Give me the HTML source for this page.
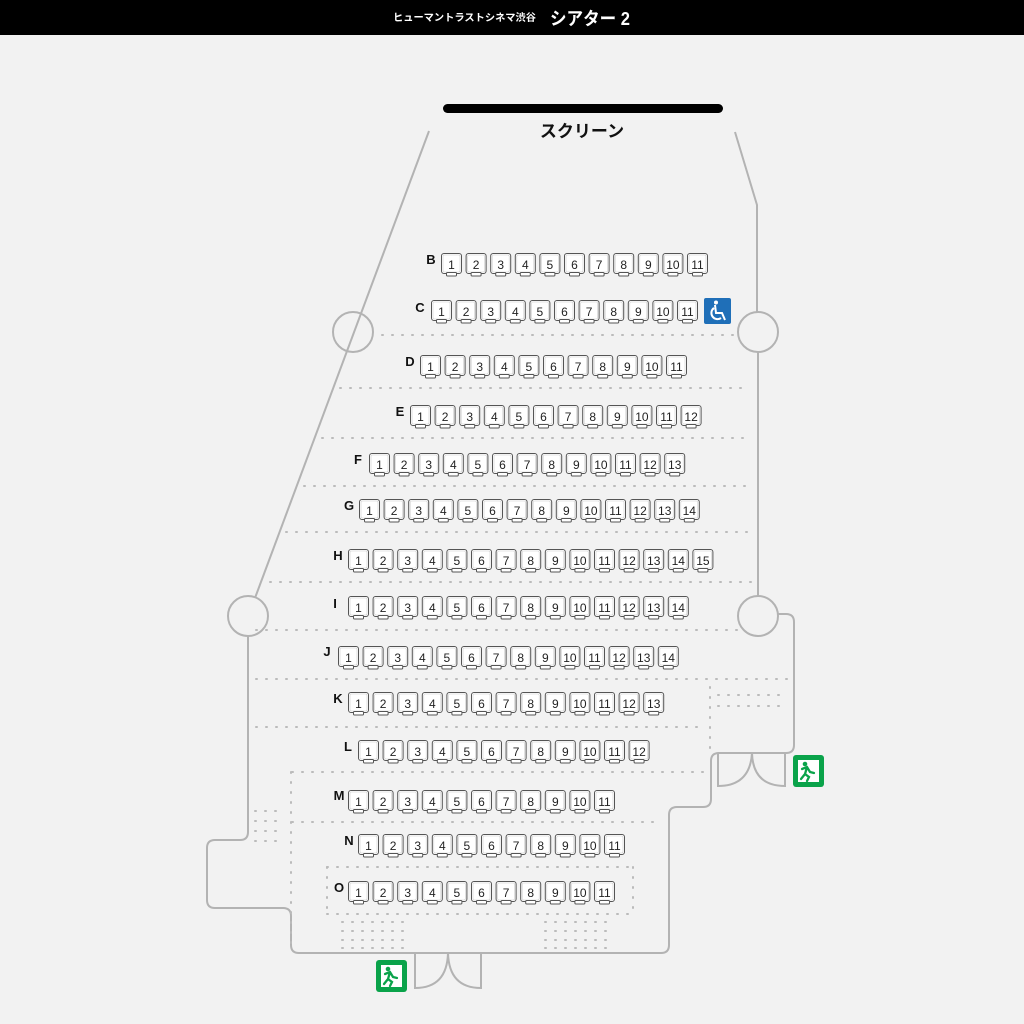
<!DOCTYPE html>
<html><head><meta charset="utf-8"><style>
html,body{margin:0;padding:0;background:#f2f2f2;}
svg{display:block;}
.n{font-family:"Liberation Sans",sans-serif;font-size:12px;fill:#222;text-anchor:middle;}
.r{font-family:"Liberation Sans",sans-serif;font-size:13px;font-weight:bold;fill:#111;text-anchor:middle;}
.w{fill:none;stroke:#b3b3b3;stroke-width:2;}
.d{fill:none;stroke:#bbb;stroke-width:2;stroke-dasharray:1 9;stroke-linecap:round;}
</style></head><body>
<svg width="1024" height="1024" viewBox="0 0 1024 1024" xmlns="http://www.w3.org/2000/svg">
<defs>
<g id="s"><rect x="0.5" y="0.5" width="20" height="20" rx="2.5" fill="#fff" stroke="#555" stroke-width="1"/><rect x="2" y="2" width="17" height="17" rx="1.5" fill="none" stroke="#ccc" stroke-width="0.6"/><rect x="5.5" y="19.5" width="10" height="3.5" rx="1" fill="#fff" stroke="#555" stroke-width="1"/></g>
<g id="exit"><rect x="0" y="0" width="31" height="32" rx="3" fill="#0aa34a"/><rect x="5" y="5" width="21" height="22" fill="#fff"/><circle cx="12" cy="9" r="2.3" fill="#0aa34a"/><path d="M9 14 L14 12 L17 17 L21 18 M14 12 L12 19 L16 22 L14 26 M12 19 L8 24" stroke="#0aa34a" stroke-width="2.3" fill="none" stroke-linecap="round"/></g>
</defs>
<rect x="0" y="0" width="1024" height="35" fill="#000"/>
<text x="393" y="21" fill="#fff" font-family="'Liberation Sans','Noto Sans CJK JP',sans-serif" font-size="10" font-weight="bold" textLength="143" lengthAdjust="spacingAndGlyphs">ヒューマントラストシネマ渋谷</text>
<text x="550" y="25" fill="#fff" font-family="'Liberation Sans','Noto Sans CJK JP',sans-serif" font-size="18" font-weight="bold" textLength="80" lengthAdjust="spacingAndGlyphs">シアター 2</text>
<rect x="443" y="104" width="280" height="9" rx="4.5" fill="#000"/>
<text x="582" y="137" fill="#111" font-family="'Liberation Sans','Noto Sans CJK JP',sans-serif" font-size="17" font-weight="bold" text-anchor="middle">スクリーン</text>

<path class="w" d="M429 131 L255 598"/>
<circle class="w" cx="353" cy="332" r="20"/>
<circle class="w" cx="248" cy="616" r="20"/>
<circle class="w" cx="758" cy="332" r="20"/>
<circle class="w" cx="758" cy="616" r="20"/>
<path class="w" d="M735 132 L757 205 L757 312"/>
<path class="w" d="M758 352 L758 596"/>
<path class="w" d="M248 636 L248 832 Q248 840 240 840 L215 840 Q207 840 207 848 L207 900 Q207 908 215 908 L283 908 Q291 908 291 916 L291 945 Q291 953 299 953 L661 953 Q669 953 669 945 L669 815 Q669 807 677 807 L703 807 Q711 807 711 799 L711 761 Q711 753 719 753 L786 753 Q794 753 794 745 L794 622 Q794 614 786 614 L778 614"/>
<path class="w" d="M415 953 L415 988 Q447 988 448 953 Q449 988 481 988 L481 953"/>
<path class="w" d="M718 753 L718 786 Q750 786 752 753 Q753 786 785 786 L785 753"/>
<use href="#exit" x="376" y="960"/>
<use href="#exit" x="793" y="755"/>

<path class="d" d="M382 335 H735 M340 388 H748 M322 438 H752 M304 486 H750 M286 532 H748 M270 582 H752 M256 630 H738 M256 679 H790 M256 727 H705 M292 772 H705 M292 822 H662 M327 867 H633 M327 914 H633"/>
<path class="d" d="M291 772 V945 M327 867 V914 M633 867 V914 M710 687 V750"/>
<path class="d" d="M255 811 H285 M255 821 H285 M255 831 H285 M255 841 H285"/>
<path class="d" d="M718 695 H788 M718 706 H788"/>
<path class="d" d="M342 922 H404 M342 931 H404 M342 940 H404 M342 948 H404 M545 922 H607 M545 931 H607 M545 940 H607 M545 948 H607"/>

<rect x="704" y="298" width="27" height="26" rx="2" fill="#1f6fb8"/>
<circle cx="716" cy="302.5" r="2" fill="#fff"/>
<path d="M715 305 L716 313 L722 313 L725 320 M714 308 A6 6 0 1 0 721 318" stroke="#fff" stroke-width="2" fill="none"/>

<text class="r" x="431" y="264">B</text>
<g transform="translate(441,253)">
<use href="#s" x="0"/><text class="n" x="10.5" y="16">1</text>
<use href="#s" x="24.6"/><text class="n" x="35.1" y="16">2</text>
<use href="#s" x="49.2"/><text class="n" x="59.7" y="16">3</text>
<use href="#s" x="73.8"/><text class="n" x="84.3" y="16">4</text>
<use href="#s" x="98.4"/><text class="n" x="108.9" y="16">5</text>
<use href="#s" x="123"/><text class="n" x="133.5" y="16">6</text>
<use href="#s" x="147.6"/><text class="n" x="158.1" y="16">7</text>
<use href="#s" x="172.2"/><text class="n" x="182.7" y="16">8</text>
<use href="#s" x="196.8"/><text class="n" x="207.3" y="16">9</text>
<use href="#s" x="221.4"/><text class="n" x="231.9" y="16">10</text>
<use href="#s" x="246"/><text class="n" x="256.5" y="16">11</text>
</g>
<text class="r" x="420" y="312">C</text>
<g transform="translate(431,300)">
<use href="#s" x="0"/><text class="n" x="10.5" y="16">1</text>
<use href="#s" x="24.6"/><text class="n" x="35.1" y="16">2</text>
<use href="#s" x="49.2"/><text class="n" x="59.7" y="16">3</text>
<use href="#s" x="73.8"/><text class="n" x="84.3" y="16">4</text>
<use href="#s" x="98.4"/><text class="n" x="108.9" y="16">5</text>
<use href="#s" x="123"/><text class="n" x="133.5" y="16">6</text>
<use href="#s" x="147.6"/><text class="n" x="158.1" y="16">7</text>
<use href="#s" x="172.2"/><text class="n" x="182.7" y="16">8</text>
<use href="#s" x="196.8"/><text class="n" x="207.3" y="16">9</text>
<use href="#s" x="221.4"/><text class="n" x="231.9" y="16">10</text>
<use href="#s" x="246"/><text class="n" x="256.5" y="16">11</text>
</g>
<text class="r" x="410" y="366">D</text>
<g transform="translate(420,355)">
<use href="#s" x="0"/><text class="n" x="10.5" y="16">1</text>
<use href="#s" x="24.6"/><text class="n" x="35.1" y="16">2</text>
<use href="#s" x="49.2"/><text class="n" x="59.7" y="16">3</text>
<use href="#s" x="73.8"/><text class="n" x="84.3" y="16">4</text>
<use href="#s" x="98.4"/><text class="n" x="108.9" y="16">5</text>
<use href="#s" x="123"/><text class="n" x="133.5" y="16">6</text>
<use href="#s" x="147.6"/><text class="n" x="158.1" y="16">7</text>
<use href="#s" x="172.2"/><text class="n" x="182.7" y="16">8</text>
<use href="#s" x="196.8"/><text class="n" x="207.3" y="16">9</text>
<use href="#s" x="221.4"/><text class="n" x="231.9" y="16">10</text>
<use href="#s" x="246"/><text class="n" x="256.5" y="16">11</text>
</g>
<text class="r" x="400" y="416">E</text>
<g transform="translate(410,405)">
<use href="#s" x="0"/><text class="n" x="10.5" y="16">1</text>
<use href="#s" x="24.6"/><text class="n" x="35.1" y="16">2</text>
<use href="#s" x="49.2"/><text class="n" x="59.7" y="16">3</text>
<use href="#s" x="73.8"/><text class="n" x="84.3" y="16">4</text>
<use href="#s" x="98.4"/><text class="n" x="108.9" y="16">5</text>
<use href="#s" x="123"/><text class="n" x="133.5" y="16">6</text>
<use href="#s" x="147.6"/><text class="n" x="158.1" y="16">7</text>
<use href="#s" x="172.2"/><text class="n" x="182.7" y="16">8</text>
<use href="#s" x="196.8"/><text class="n" x="207.3" y="16">9</text>
<use href="#s" x="221.4"/><text class="n" x="231.9" y="16">10</text>
<use href="#s" x="246"/><text class="n" x="256.5" y="16">11</text>
<use href="#s" x="270.6"/><text class="n" x="281.1" y="16">12</text>
</g>
<text class="r" x="358" y="464">F</text>
<g transform="translate(369,453)">
<use href="#s" x="0"/><text class="n" x="10.5" y="16">1</text>
<use href="#s" x="24.6"/><text class="n" x="35.1" y="16">2</text>
<use href="#s" x="49.2"/><text class="n" x="59.7" y="16">3</text>
<use href="#s" x="73.8"/><text class="n" x="84.3" y="16">4</text>
<use href="#s" x="98.4"/><text class="n" x="108.9" y="16">5</text>
<use href="#s" x="123"/><text class="n" x="133.5" y="16">6</text>
<use href="#s" x="147.6"/><text class="n" x="158.1" y="16">7</text>
<use href="#s" x="172.2"/><text class="n" x="182.7" y="16">8</text>
<use href="#s" x="196.8"/><text class="n" x="207.3" y="16">9</text>
<use href="#s" x="221.4"/><text class="n" x="231.9" y="16">10</text>
<use href="#s" x="246"/><text class="n" x="256.5" y="16">11</text>
<use href="#s" x="270.6"/><text class="n" x="281.1" y="16">12</text>
<use href="#s" x="295.2"/><text class="n" x="305.7" y="16">13</text>
</g>
<text class="r" x="349" y="510">G</text>
<g transform="translate(359,499)">
<use href="#s" x="0"/><text class="n" x="10.5" y="16">1</text>
<use href="#s" x="24.6"/><text class="n" x="35.1" y="16">2</text>
<use href="#s" x="49.2"/><text class="n" x="59.7" y="16">3</text>
<use href="#s" x="73.8"/><text class="n" x="84.3" y="16">4</text>
<use href="#s" x="98.4"/><text class="n" x="108.9" y="16">5</text>
<use href="#s" x="123"/><text class="n" x="133.5" y="16">6</text>
<use href="#s" x="147.6"/><text class="n" x="158.1" y="16">7</text>
<use href="#s" x="172.2"/><text class="n" x="182.7" y="16">8</text>
<use href="#s" x="196.8"/><text class="n" x="207.3" y="16">9</text>
<use href="#s" x="221.4"/><text class="n" x="231.9" y="16">10</text>
<use href="#s" x="246"/><text class="n" x="256.5" y="16">11</text>
<use href="#s" x="270.6"/><text class="n" x="281.1" y="16">12</text>
<use href="#s" x="295.2"/><text class="n" x="305.7" y="16">13</text>
<use href="#s" x="319.8"/><text class="n" x="330.3" y="16">14</text>
</g>
<text class="r" x="338" y="560">H</text>
<g transform="translate(348,549)">
<use href="#s" x="0"/><text class="n" x="10.5" y="16">1</text>
<use href="#s" x="24.6"/><text class="n" x="35.1" y="16">2</text>
<use href="#s" x="49.2"/><text class="n" x="59.7" y="16">3</text>
<use href="#s" x="73.8"/><text class="n" x="84.3" y="16">4</text>
<use href="#s" x="98.4"/><text class="n" x="108.9" y="16">5</text>
<use href="#s" x="123"/><text class="n" x="133.5" y="16">6</text>
<use href="#s" x="147.6"/><text class="n" x="158.1" y="16">7</text>
<use href="#s" x="172.2"/><text class="n" x="182.7" y="16">8</text>
<use href="#s" x="196.8"/><text class="n" x="207.3" y="16">9</text>
<use href="#s" x="221.4"/><text class="n" x="231.9" y="16">10</text>
<use href="#s" x="246"/><text class="n" x="256.5" y="16">11</text>
<use href="#s" x="270.6"/><text class="n" x="281.1" y="16">12</text>
<use href="#s" x="295.2"/><text class="n" x="305.7" y="16">13</text>
<use href="#s" x="319.8"/><text class="n" x="330.3" y="16">14</text>
<use href="#s" x="344.4"/><text class="n" x="354.9" y="16">15</text>
</g>
<text class="r" x="335" y="608">I</text>
<g transform="translate(348,596)">
<use href="#s" x="0"/><text class="n" x="10.5" y="16">1</text>
<use href="#s" x="24.6"/><text class="n" x="35.1" y="16">2</text>
<use href="#s" x="49.2"/><text class="n" x="59.7" y="16">3</text>
<use href="#s" x="73.8"/><text class="n" x="84.3" y="16">4</text>
<use href="#s" x="98.4"/><text class="n" x="108.9" y="16">5</text>
<use href="#s" x="123"/><text class="n" x="133.5" y="16">6</text>
<use href="#s" x="147.6"/><text class="n" x="158.1" y="16">7</text>
<use href="#s" x="172.2"/><text class="n" x="182.7" y="16">8</text>
<use href="#s" x="196.8"/><text class="n" x="207.3" y="16">9</text>
<use href="#s" x="221.4"/><text class="n" x="231.9" y="16">10</text>
<use href="#s" x="246"/><text class="n" x="256.5" y="16">11</text>
<use href="#s" x="270.6"/><text class="n" x="281.1" y="16">12</text>
<use href="#s" x="295.2"/><text class="n" x="305.7" y="16">13</text>
<use href="#s" x="319.8"/><text class="n" x="330.3" y="16">14</text>
</g>
<text class="r" x="327" y="656">J</text>
<g transform="translate(338,646)">
<use href="#s" x="0"/><text class="n" x="10.5" y="16">1</text>
<use href="#s" x="24.6"/><text class="n" x="35.1" y="16">2</text>
<use href="#s" x="49.2"/><text class="n" x="59.7" y="16">3</text>
<use href="#s" x="73.8"/><text class="n" x="84.3" y="16">4</text>
<use href="#s" x="98.4"/><text class="n" x="108.9" y="16">5</text>
<use href="#s" x="123"/><text class="n" x="133.5" y="16">6</text>
<use href="#s" x="147.6"/><text class="n" x="158.1" y="16">7</text>
<use href="#s" x="172.2"/><text class="n" x="182.7" y="16">8</text>
<use href="#s" x="196.8"/><text class="n" x="207.3" y="16">9</text>
<use href="#s" x="221.4"/><text class="n" x="231.9" y="16">10</text>
<use href="#s" x="246"/><text class="n" x="256.5" y="16">11</text>
<use href="#s" x="270.6"/><text class="n" x="281.1" y="16">12</text>
<use href="#s" x="295.2"/><text class="n" x="305.7" y="16">13</text>
<use href="#s" x="319.8"/><text class="n" x="330.3" y="16">14</text>
</g>
<text class="r" x="338" y="703">K</text>
<g transform="translate(348,692)">
<use href="#s" x="0"/><text class="n" x="10.5" y="16">1</text>
<use href="#s" x="24.6"/><text class="n" x="35.1" y="16">2</text>
<use href="#s" x="49.2"/><text class="n" x="59.7" y="16">3</text>
<use href="#s" x="73.8"/><text class="n" x="84.3" y="16">4</text>
<use href="#s" x="98.4"/><text class="n" x="108.9" y="16">5</text>
<use href="#s" x="123"/><text class="n" x="133.5" y="16">6</text>
<use href="#s" x="147.6"/><text class="n" x="158.1" y="16">7</text>
<use href="#s" x="172.2"/><text class="n" x="182.7" y="16">8</text>
<use href="#s" x="196.8"/><text class="n" x="207.3" y="16">9</text>
<use href="#s" x="221.4"/><text class="n" x="231.9" y="16">10</text>
<use href="#s" x="246"/><text class="n" x="256.5" y="16">11</text>
<use href="#s" x="270.6"/><text class="n" x="281.1" y="16">12</text>
<use href="#s" x="295.2"/><text class="n" x="305.7" y="16">13</text>
</g>
<text class="r" x="348" y="751">L</text>
<g transform="translate(358,740)">
<use href="#s" x="0"/><text class="n" x="10.5" y="16">1</text>
<use href="#s" x="24.6"/><text class="n" x="35.1" y="16">2</text>
<use href="#s" x="49.2"/><text class="n" x="59.7" y="16">3</text>
<use href="#s" x="73.8"/><text class="n" x="84.3" y="16">4</text>
<use href="#s" x="98.4"/><text class="n" x="108.9" y="16">5</text>
<use href="#s" x="123"/><text class="n" x="133.5" y="16">6</text>
<use href="#s" x="147.6"/><text class="n" x="158.1" y="16">7</text>
<use href="#s" x="172.2"/><text class="n" x="182.7" y="16">8</text>
<use href="#s" x="196.8"/><text class="n" x="207.3" y="16">9</text>
<use href="#s" x="221.4"/><text class="n" x="231.9" y="16">10</text>
<use href="#s" x="246"/><text class="n" x="256.5" y="16">11</text>
<use href="#s" x="270.6"/><text class="n" x="281.1" y="16">12</text>
</g>
<text class="r" x="339" y="800">M</text>
<g transform="translate(348,790)">
<use href="#s" x="0"/><text class="n" x="10.5" y="16">1</text>
<use href="#s" x="24.6"/><text class="n" x="35.1" y="16">2</text>
<use href="#s" x="49.2"/><text class="n" x="59.7" y="16">3</text>
<use href="#s" x="73.8"/><text class="n" x="84.3" y="16">4</text>
<use href="#s" x="98.4"/><text class="n" x="108.9" y="16">5</text>
<use href="#s" x="123"/><text class="n" x="133.5" y="16">6</text>
<use href="#s" x="147.6"/><text class="n" x="158.1" y="16">7</text>
<use href="#s" x="172.2"/><text class="n" x="182.7" y="16">8</text>
<use href="#s" x="196.8"/><text class="n" x="207.3" y="16">9</text>
<use href="#s" x="221.4"/><text class="n" x="231.9" y="16">10</text>
<use href="#s" x="246"/><text class="n" x="256.5" y="16">11</text>
</g>
<text class="r" x="349" y="845">N</text>
<g transform="translate(358,834)">
<use href="#s" x="0"/><text class="n" x="10.5" y="16">1</text>
<use href="#s" x="24.6"/><text class="n" x="35.1" y="16">2</text>
<use href="#s" x="49.2"/><text class="n" x="59.7" y="16">3</text>
<use href="#s" x="73.8"/><text class="n" x="84.3" y="16">4</text>
<use href="#s" x="98.4"/><text class="n" x="108.9" y="16">5</text>
<use href="#s" x="123"/><text class="n" x="133.5" y="16">6</text>
<use href="#s" x="147.6"/><text class="n" x="158.1" y="16">7</text>
<use href="#s" x="172.2"/><text class="n" x="182.7" y="16">8</text>
<use href="#s" x="196.8"/><text class="n" x="207.3" y="16">9</text>
<use href="#s" x="221.4"/><text class="n" x="231.9" y="16">10</text>
<use href="#s" x="246"/><text class="n" x="256.5" y="16">11</text>
</g>
<text class="r" x="339" y="892">O</text>
<g transform="translate(348,881)">
<use href="#s" x="0"/><text class="n" x="10.5" y="16">1</text>
<use href="#s" x="24.6"/><text class="n" x="35.1" y="16">2</text>
<use href="#s" x="49.2"/><text class="n" x="59.7" y="16">3</text>
<use href="#s" x="73.8"/><text class="n" x="84.3" y="16">4</text>
<use href="#s" x="98.4"/><text class="n" x="108.9" y="16">5</text>
<use href="#s" x="123"/><text class="n" x="133.5" y="16">6</text>
<use href="#s" x="147.6"/><text class="n" x="158.1" y="16">7</text>
<use href="#s" x="172.2"/><text class="n" x="182.7" y="16">8</text>
<use href="#s" x="196.8"/><text class="n" x="207.3" y="16">9</text>
<use href="#s" x="221.4"/><text class="n" x="231.9" y="16">10</text>
<use href="#s" x="246"/><text class="n" x="256.5" y="16">11</text>
</g>
</svg>
</body></html>
